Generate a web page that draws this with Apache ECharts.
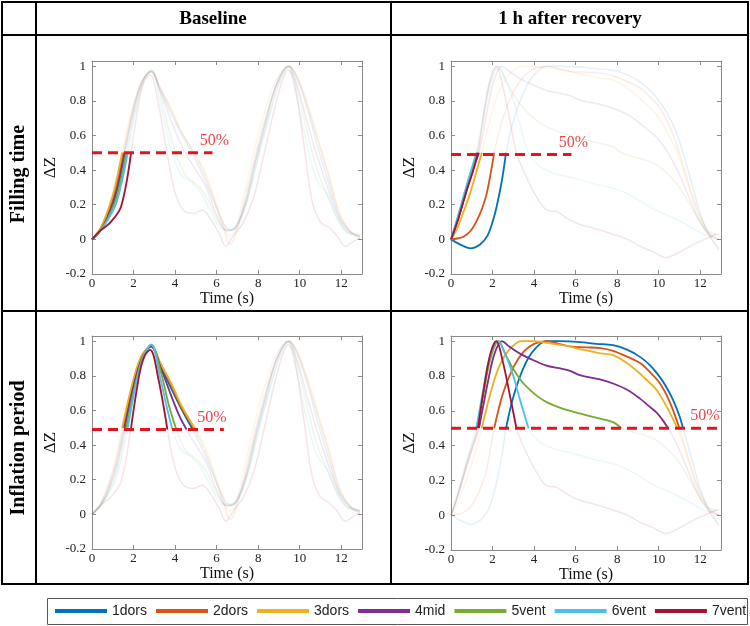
<!DOCTYPE html>
<html><head><meta charset="utf-8">
<script src="https://cdn.jsdelivr.net/npm/echarts@6/dist/echarts.min.js"></script>
<style>html,body{margin:0;padding:0;background:#fff}#c{width:750px;height:626px}</style>
</head><body><div id="c"></div>
<script>
// ---------- DATA ----------
const seriesNames = ['1dors','2dors','3dors','4mid','5vent','6vent','7vent'];
const seriesColors = ['#0072BD','#D95319','#EDB120','#7E2F8E','#77AC30','#4DBEEE','#A2142F'];
const colHeaders = ['Baseline','1 h after recovery'];
const rowHeaders = ['Filling time','Inflation period'];
const xTickStep = 2;
const yTickStep = 0.2;

// Baseline ΔZ traces [time s, ΔZ]
const base_1dors = [[0,0],[0.4,0.05],[0.8,0.15],[1.2,0.3],[1.55,0.5],[2.0,0.75],[2.4,0.91],[2.85,0.97],[3.3,0.86],[3.8,0.73],[4.3,0.61],[4.85,0.49],[5.3,0.38],[5.8,0.24],[6.3,0.1],[6.7,0.05],[7.1,0.1],[7.6,0.28],[8.1,0.52],[8.6,0.74],[9.1,0.93],[9.5,1.0],[9.9,0.92],[10.4,0.74],[10.9,0.52],[11.4,0.32],[11.9,0.13],[12.4,0.05],[12.9,0.02]];
const base_2dors = [[0,0],[0.4,0.06],[0.8,0.17],[1.1,0.28],[1.5,0.5],[2.0,0.77],[2.4,0.91],[2.85,0.97],[3.3,0.87],[3.8,0.75],[4.3,0.62],[4.95,0.49],[5.4,0.38],[5.9,0.22],[6.3,0.08],[6.65,-0.03],[7.0,0.06],[7.5,0.3],[8.0,0.55],[8.5,0.76],[9.0,0.93],[9.5,1.0],[9.9,0.93],[10.4,0.76],[10.9,0.56],[11.4,0.36],[11.9,0.15],[12.4,0.05],[12.9,0.01]];
const base_3dors = [[0,0],[0.4,0.06],[0.8,0.18],[1.1,0.3],[1.45,0.5],[2.0,0.78],[2.4,0.92],[2.85,0.97],[3.3,0.87],[3.8,0.76],[4.3,0.63],[4.98,0.49],[5.4,0.4],[5.9,0.24],[6.3,0.1],[6.6,0.02],[6.9,0.05],[7.4,0.3],[7.9,0.56],[8.4,0.77],[8.9,0.93],[9.5,1.0],[9.9,0.94],[10.4,0.78],[10.9,0.58],[11.4,0.38],[11.9,0.16],[12.4,0.05],[12.9,0.0]];
const base_4mid  = [[0,0],[0.4,0.05],[0.8,0.14],[1.2,0.28],[1.58,0.5],[2.0,0.74],[2.4,0.9],[2.85,0.97],[3.3,0.85],[3.8,0.69],[4.2,0.57],[4.55,0.49],[5.0,0.4],[5.5,0.3],[6.0,0.14],[6.5,0.05],[6.9,0.07],[7.4,0.22],[7.9,0.47],[8.4,0.7],[8.9,0.9],[9.45,1.0],[9.9,0.88],[10.4,0.66],[10.9,0.46],[11.4,0.28],[11.9,0.12],[12.4,0.04],[12.9,0.02]];
const base_5vent = [[0,0],[0.4,0.05],[0.8,0.13],[1.2,0.25],[1.65,0.5],[2.1,0.76],[2.45,0.91],[2.85,0.98],[3.3,0.83],[3.7,0.63],[4.06,0.49],[4.5,0.37],[5.0,0.32],[5.5,0.25],[6.0,0.12],[6.5,0.05],[6.9,0.07],[7.4,0.2],[7.9,0.45],[8.4,0.68],[8.9,0.89],[9.45,1.0],[9.9,0.86],[10.4,0.6],[10.9,0.38],[11.4,0.24],[11.9,0.1],[12.4,0.03],[12.9,0.02]];
const base_6vent = [[0,0],[0.4,0.05],[0.8,0.12],[1.2,0.22],[1.72,0.5],[2.15,0.77],[2.5,0.92],[2.85,0.98],[3.3,0.78],[3.6,0.62],[3.87,0.49],[4.3,0.37],[4.8,0.33],[5.3,0.26],[5.8,0.14],[6.3,0.06],[6.8,0.06],[7.3,0.18],[7.8,0.42],[8.3,0.65],[8.8,0.87],[9.4,1.0],[9.8,0.85],[10.3,0.57],[10.8,0.35],[11.3,0.26],[11.8,0.12],[12.3,0.04],[12.9,0.03]];
const base_7vent = [[0,0],[0.4,0.05],[0.9,0.1],[1.4,0.19],[1.88,0.5],[2.3,0.82],[2.55,0.92],[2.8,0.95],[3.2,0.78],[3.63,0.49],[4.0,0.27],[4.4,0.17],[4.9,0.15],[5.3,0.17],[5.7,0.12],[6.1,0.04],[6.45,-0.04],[6.8,0.02],[7.3,0.1],[7.8,0.25],[8.3,0.5],[8.8,0.76],[9.2,0.93],[9.45,0.98],[9.75,0.9],[10.2,0.55],[10.6,0.22],[11.0,0.1],[11.4,0.07],[11.8,0.02],[12.2,-0.04],[12.6,-0.01],[12.9,0.01]];

// 1 h after recovery ΔZ traces [time s, ΔZ]
const rec_1dors = [[0,0],[0.45,-0.03],[0.93,-0.052],[1.4,-0.03],[1.75,0.02],[2.0,0.1],[2.2,0.19],[2.45,0.34],[2.65,0.5],[3.0,0.68],[3.5,0.85],[4.0,0.95],[4.6,1.0],[5.2,1.0],[6.2,0.995],[7.0,0.985],[7.8,0.977],[8.5,0.95],[9.1,0.91],[9.6,0.86],[10.05,0.795],[10.4,0.73],[10.7,0.66],[11.0,0.57],[11.17,0.5],[11.6,0.32],[12.0,0.15],[12.4,0.03],[12.9,-0.06]];
const rec_2dors = [[0,0],[0.3,0.005],[0.6,0.015],[0.95,0.05],[1.25,0.11],[1.5,0.18],[1.73,0.27],[2.08,0.5],[2.5,0.7],[3.0,0.85],[3.5,0.94],[4.0,0.985],[4.6,1.0],[5.2,0.985],[5.72,0.97],[6.5,0.965],[7.2,0.96],[7.8,0.945],[8.5,0.91],[9.1,0.875],[9.6,0.82],[10.05,0.76],[10.5,0.66],[11.0,0.5],[11.5,0.3],[12.0,0.13],[12.5,0.03],[12.9,0.0]];
const rec_3dors = [[0,0],[0.25,0.05],[0.45,0.11],[0.7,0.19],[0.93,0.27],[1.2,0.38],[1.48,0.5],[1.9,0.7],[2.3,0.85],[2.8,0.95],[3.4,1.0],[4.0,1.0],[4.6,0.99],[5.5,0.975],[6.2,0.955],[7.2,0.93],[7.8,0.92],[8.4,0.88],[8.94,0.83],[9.4,0.78],[9.9,0.72],[10.4,0.62],[10.9,0.5],[11.4,0.32],[11.9,0.14],[12.4,0.03],[12.9,-0.05]];
const rec_4mid  = [[0,0],[0.3,0.1],[0.77,0.29],[1.05,0.4],[1.35,0.5],[1.8,0.78],[2.1,0.93],[2.45,1.0],[2.8,0.97],[3.3,0.93],[3.8,0.9],[4.6,0.86],[5.2,0.845],[5.73,0.83],[6.2,0.805],[7.17,0.78],[7.8,0.757],[8.5,0.72],[9.1,0.67],[9.5,0.63],[9.9,0.59],[10.2,0.545],[10.45,0.5],[10.9,0.4],[11.4,0.26],[11.9,0.12],[12.4,0.03],[12.9,0.0]];
const rec_5vent = [[0,0],[0.3,0.11],[0.77,0.31],[1.0,0.4],[1.26,0.5],[1.6,0.72],[1.9,0.9],[2.3,1.0],[2.6,0.93],[3.0,0.84],[3.4,0.77],[3.8,0.72],[4.2,0.68],[4.6,0.65],[5.2,0.62],[5.73,0.6],[6.2,0.585],[7.17,0.555],[7.8,0.535],[8.2,0.5],[8.7,0.48],[9.3,0.46],[9.9,0.43],[10.5,0.37],[11.0,0.3],[11.6,0.18],[12.3,0.05],[12.9,0.03]];
const rec_6vent = [[0,0],[0.3,0.12],[0.77,0.32],[1.0,0.41],[1.22,0.5],[1.55,0.72],[1.85,0.9],[2.25,1.0],[2.6,0.93],[3.0,0.8],[3.33,0.66],[3.73,0.5],[4.29,0.42],[5.0,0.38],[5.9,0.355],[6.9,0.32],[7.97,0.29],[8.7,0.25],[9.4,0.2],[10.0,0.16],[10.7,0.125],[11.4,0.08],[12.0,0.04],[12.5,0.02],[12.9,0.03]];
const rec_7vent = [[0,0],[0.3,0.1],[0.77,0.29],[1.05,0.39],[1.3,0.5],[1.6,0.74],[1.9,0.93],[2.18,1.0],[2.5,0.88],[2.85,0.68],[3.15,0.5],[3.65,0.355],[4.1,0.25],[4.6,0.17],[5.1,0.16],[5.6,0.12],[6.2,0.086],[7.0,0.06],[7.8,0.03],[8.5,0.0],[9.1,-0.04],[9.7,-0.07],[10.36,-0.105],[10.9,-0.08],[11.65,-0.03],[12.2,0.0],[12.77,0.03]];

// 50 % crossing times (s) that bound the highlighted parts
const baseFillEnd = [1.55,1.5,1.45,1.58,1.65,1.72,1.88];
const baseInflEnd = [4.85,4.95,4.98,4.55,4.06,3.87,3.63];
const recFillEnd  = [2.65,2.08,1.48,1.35,1.26,1.22,1.3];
const recInflEnd  = [11.17,11.0,10.9,10.45,8.2,3.73,3.15];

// 50 % reference lines [time, ΔZ]
const dashBaseFill = [[0,0.5],[5.8,0.5]];
const dashRecFill  = [[0,0.49],[5.8,0.49]];
const dashBaseInfl = [[0,0.49],[6.35,0.49]];
const dashRecInfl  = [[0,0.5],[12.85,0.5]];
const dashLabel = '50%';

// ---------- BUILD ----------
const baseCurves = [base_1dors,base_2dors,base_3dors,base_4mid,base_5vent,base_6vent,base_7vent];
const recCurves  = [rec_1dors,rec_2dors,rec_3dors,rec_4mid,rec_5vent,rec_6vent,rec_7vent];
const zeros = [0,0,0,0,0,0,0];
const SERIF = '"Liberation Serif", "Times New Roman", serif';
const AX = '#8a8a8a';
const DASH = '#e5141b';

const panels = [
  {curves: baseCurves, from: zeros,       to: baseFillEnd, dash: dashBaseFill, lblOff: [2,0],   grid: {left: 92,  top: 61,  width: 270, height: 213}},
  {curves: recCurves,  from: zeros,       to: recFillEnd,  dash: dashRecFill,  lblOff: [2,0],   grid: {left: 451, top: 61,  width: 270, height: 213}},
  {curves: baseCurves, from: baseFillEnd, to: baseInflEnd, dash: dashBaseInfl, lblOff: [-12,0], grid: {left: 92,  top: 336, width: 270, height: 213}},
  {curves: recCurves,  from: recFillEnd,  to: recInflEnd,  dash: dashRecInfl,  lblOff: [-13,0], grid: {left: 451, top: 336, width: 270, height: 214}}
];

const grids = [], xAxes = [], yAxes = [], faint = [], bright = [], marks = [];
panels.forEach((p, g) => {
  grids.push(Object.assign({containLabel: false, show: false}, p.grid));
  const tick = {show: true, inside: true, length: 4, lineStyle: {color: AX}};
  const line = {show: true, onZero: false, lineStyle: {color: AX, width: 1}};
  xAxes.push({gridIndex: g, type: 'value', position: 'bottom', min: 0, max: 13, interval: xTickStep,
    axisLine: line, axisTick: tick, splitLine: {show: false},
    axisLabel: {showMaxLabel: false, color: '#222', fontFamily: SERIF, fontSize: 13, margin: 3},
    name: 'Time (s)', nameLocation: 'middle', nameGap: 15,
    nameTextStyle: {fontFamily: SERIF, fontSize: 16, color: '#111'}});
  xAxes.push({gridIndex: g, type: 'value', position: 'top', min: 0, max: 13, interval: xTickStep,
    axisLine: line, axisTick: tick, splitLine: {show: false}, axisLabel: {show: false}});
  yAxes.push({gridIndex: g, type: 'value', position: 'left', min: -0.2, max: 1.03, interval: yTickStep,
    axisLine: line, axisTick: tick, splitLine: {show: false},
    axisLabel: {showMaxLabel: false, color: '#222', fontFamily: SERIF, fontSize: 13, margin: 6},
    name: 'ΔZ', nameLocation: 'middle', nameGap: 33,
    nameTextStyle: {fontFamily: SERIF, fontSize: 17, color: '#111'}});
  yAxes.push({gridIndex: g, type: 'value', position: 'right', min: -0.2, max: 1.03, interval: yTickStep,
    axisLine: line, axisTick: tick, splitLine: {show: false}, axisLabel: {show: false}});

  p.curves.forEach((c, i) => {
    faint.push({type: 'line', name: seriesNames[i] + ' trace', xAxisIndex: 2 * g, yAxisIndex: 2 * g,
      data: c, showSymbol: false, symbol: 'none', smooth: 0.35, silent: true, z: 2,
      lineStyle: {color: seriesColors[i], width: 1.5, opacity: 0.11}});
    const seg = c.filter(pt => pt[0] >= p.from[i] - 1e-9 && pt[0] <= p.to[i] + 1e-9);
    bright.push({type: 'line', name: seriesNames[i], xAxisIndex: 2 * g, yAxisIndex: 2 * g,
      data: seg, showSymbol: false, symbol: 'none', smooth: 0.35, silent: true, z: 3,
      itemStyle: {color: seriesColors[i]}, lineStyle: {color: seriesColors[i], width: 1.8}});
  });
  marks.push({type: 'line', name: '50% line', xAxisIndex: 2 * g, yAxisIndex: 2 * g, data: p.dash,
    showSymbol: false, symbol: 'none', silent: true, z: 5,
    lineStyle: {color: DASH, width: 3, type: [10, 6]}});
  marks.push({type: 'scatter', name: '50% label', xAxisIndex: 2 * g, yAxisIndex: 2 * g,
    data: [p.dash[p.dash.length - 1]], symbolSize: 2, silent: true, z: 6,
    itemStyle: {color: 'rgba(0,0,0,0)'},
    label: {show: true, formatter: dashLabel, position: 'top', distance: 3, offset: p.lblOff,
      color: DASH, fontFamily: SERIF, fontSize: 16}});
});

const hdrFont = 'bold 19px ' + SERIF;
const rowFont = 'bold 20px ' + SERIF;
const graphic = [
  {type: 'rect', shape: {x: 2, y: 2, width: 746, height: 582}, style: {fill: 'none', stroke: '#000', lineWidth: 2}, silent: true},
  {type: 'line', shape: {x1: 36, y1: 2, x2: 36, y2: 584}, style: {stroke: '#000', lineWidth: 2}, silent: true},
  {type: 'line', shape: {x1: 391, y1: 2, x2: 391, y2: 584}, style: {stroke: '#000', lineWidth: 2}, silent: true},
  {type: 'line', shape: {x1: 2, y1: 35, x2: 748, y2: 35}, style: {stroke: '#000', lineWidth: 2}, silent: true},
  {type: 'line', shape: {x1: 2, y1: 311, x2: 748, y2: 311}, style: {stroke: '#000', lineWidth: 2}, silent: true},
  {type: 'text', x: 213, y: 19, style: {text: colHeaders[0], font: hdrFont, fill: '#000', align: 'center', verticalAlign: 'middle', textAlign: 'center', textVerticalAlign: 'middle'}},
  {type: 'text', x: 570, y: 19, style: {text: colHeaders[1], font: hdrFont, fill: '#000', align: 'center', verticalAlign: 'middle', textAlign: 'center', textVerticalAlign: 'middle'}},
  {type: 'text', x: 19, y: 174, rotation: Math.PI / 2, style: {text: rowHeaders[0], font: rowFont, fill: '#000', align: 'center', verticalAlign: 'middle', textAlign: 'center', textVerticalAlign: 'middle'}},
  {type: 'text', x: 19, y: 448, rotation: Math.PI / 2, style: {text: rowHeaders[1], font: rowFont, fill: '#000', align: 'center', verticalAlign: 'middle', textAlign: 'center', textVerticalAlign: 'middle'}},
  {type: 'rect', shape: {x: 47.5, y: 598.5, width: 700, height: 26}, style: {fill: 'none', stroke: '#555', lineWidth: 1}, silent: true}
];

const chart = echarts.init(document.getElementById('c'), null, {renderer: 'canvas'});
chart.setOption({
  backgroundColor: '#fff',
  animation: false,
  grid: grids,
  xAxis: xAxes,
  yAxis: yAxes,
  legend: {data: seriesNames, left: 55, top: 604, padding: 0, itemWidth: 52, itemHeight: 4, itemGap: 9,
    icon: 'rect', selectedMode: false,
    textStyle: {fontFamily: '"Liberation Sans", Arial, sans-serif', fontSize: 14, color: '#222'}},
  graphic: graphic,
  series: faint.concat(bright, marks)
});
</script></body></html>
